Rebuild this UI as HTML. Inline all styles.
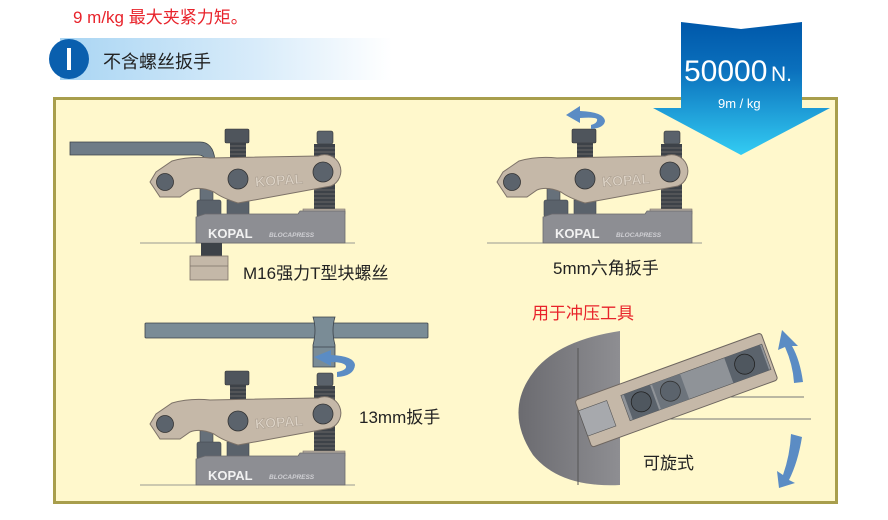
<!DOCTYPE html>
<html><head><meta charset="utf-8"><style>
body{margin:0;width:888px;height:520px;background:#fff;overflow:hidden;font-family:"Liberation Sans","Noto Sans CJK SC",sans-serif}
svg{display:block}
</style></head><body>
<svg width="888" height="520" viewBox="0 0 888 520" xmlns="http://www.w3.org/2000/svg" font-family="Liberation Sans, Noto Sans CJK SC, sans-serif">
<defs>
<linearGradient id="bar" x1="0" x2="1" y1="0" y2="0"><stop offset="0" stop-color="#a9d5f3"/><stop offset="0.6" stop-color="#d9ecfa"/><stop offset="1" stop-color="#ffffff"/></linearGradient>
<linearGradient id="arr" x1="0" x2="0" y1="0" y2="1"><stop offset="0" stop-color="#0058aa"/><stop offset="0.35" stop-color="#0a6fbc"/><stop offset="1" stop-color="#33ccf3"/></linearGradient>
<linearGradient id="die" x1="0" x2="1" y1="0" y2="0"><stop offset="0" stop-color="#6b6b70"/><stop offset="1" stop-color="#8e8e92"/></linearGradient>
<g id="clamp">
  <line x1="140" y1="243" x2="355" y2="243" stroke="#9a9a92" stroke-width="1"/>
  <rect x="200" y="188" width="13" height="15" fill="#66707a" stroke="#444" stroke-width="0.6"/>
  <rect x="197" y="200" width="24" height="17" rx="2" fill="#5a626b" stroke="#3f454c" stroke-width="0.6"/>
  <rect x="227" y="200" width="22" height="17" fill="#5a626b" stroke="#3f454c" stroke-width="0.6"/>
  <rect x="225" y="129" width="24" height="14" rx="1.5" fill="#4f555c" stroke="#333" stroke-width="0.6"/>
  <rect x="230" y="143" width="16" height="18" fill="#3d4248"/>
  <path d="M230 146h16M230 150h16M230 154h16M230 158h16" stroke="#666" stroke-width="1"/>
  <rect x="317" y="131" width="16" height="13" rx="2" fill="#5a626b" stroke="#333" stroke-width="0.6"/>
  <rect x="314" y="144" width="21" height="66" fill="#3d4248"/>
  <path d="M314 148h21M314 152h21M314 156h21M314 160h21M314 190h21M314 194h21M314 198h21M314 202h21M314 206h21" stroke="#666" stroke-width="1"/>
  <rect x="303" y="209" width="42" height="5" fill="#b9b0a4" stroke="#7a7068" stroke-width="0.6"/>
  <path d="M196 217 L205 214 L298 214 L300 211 L345 211 L345 243 L196 243 Z" fill="#8d8e93" stroke="#6a6a6e" stroke-width="0.8"/>
  <text x="208" y="238" font-size="13" font-weight="bold" fill="#f2f2f2">KOPAL</text>
  <text x="269" y="237" font-size="6.5" font-style="italic" font-weight="bold" fill="#d0d0d4">BLOCAPRESS</text>
  <path d="M150 182 L156 172 L172 161 Q190 156 210 158 L318 156 A16 16 0 0 1 331 186 L238 203 Q222 198 214 192 Q200 186 190 190 L180 197 L160 197 Z" fill="#c5b8a8" stroke="#7d7268" stroke-width="1"/>
  <circle cx="165" cy="182" r="8.5" fill="#5b636c" stroke="#333" stroke-width="0.8"/>
  <circle cx="238" cy="179" r="10" fill="#5b636c" stroke="#333" stroke-width="0.8"/>
  <circle cx="323" cy="172" r="10" fill="#5b636c" stroke="#333" stroke-width="0.8"/>
  <text x="255" y="185" font-size="14" font-weight="bold" fill="#ddd3c6" stroke="#a89c8e" stroke-width="0.5" transform="rotate(-4 280 180)">KOPAL</text>
</g>
</defs>

<text x="73" y="23" font-size="17" fill="#e8232b">9 m/kg 最大夹紧力矩。</text>
<rect x="60" y="38" width="332" height="42" fill="url(#bar)"/>
<circle cx="69" cy="59" r="20" fill="#0a5fae"/>
<rect x="67" y="48" width="4" height="22" fill="#fff"/>
<text x="103" y="68" font-size="18" fill="#222">不含螺丝扳手</text>

<rect x="54.5" y="98.5" width="782" height="404" fill="#fff8cc" stroke="#a89e4c" stroke-width="3"/>

<path d="M681 22 L741 29 L802 22 L802 108 L830 108 L741 155 L653 108 L681 108 Z" fill="url(#arr)"/>
<text x="684" y="81" font-size="30" fill="#fff">50000</text>
<text x="771" y="81" font-size="21" fill="#fff">N.</text>
<text x="718" y="108" font-size="13" fill="#fff">9m / kg</text>

<path d="M70 142 H200 Q213 142 215 160 L205 160 Q204 155 198 155 H70 Z" fill="#6f7c87" stroke="#3c434a" stroke-width="0.8"/>
<use href="#clamp"/>
<rect x="201" y="243" width="21" height="13" fill="#3d4248"/>
<rect x="190" y="256" width="38" height="24" fill="#c4b8a8" stroke="#7d7268" stroke-width="0.8"/>
<line x1="190" y1="266" x2="228" y2="266" stroke="#7d7268" stroke-width="0.8"/>
<text x="243" y="279" font-size="17" fill="#222">M16强力T型块螺丝</text>

<use href="#clamp" transform="translate(347,0)"/>
<path d="M566 115 L580 106 L580 111 Q604 112 605 121 Q604 128 591 129 L591 125 Q598 123 597 119 Q595 117 580 118 L580 123 Z" fill="#5b8cc4"/>
<text x="553" y="274" font-size="17" fill="#222">5mm六角扳手</text>

<use href="#clamp" transform="translate(0,242)"/>
<rect x="145" y="323" width="283" height="15" rx="1" fill="#7a8c96" stroke="#3c434a" stroke-width="0.8"/>
<path d="M313 317 H335 Q331 330 335 345 V367 H313 V345 Q317 330 313 317 Z" fill="#7a8c96" stroke="#3c434a" stroke-width="0.8"/>
<line x1="313" y1="347" x2="335" y2="347" stroke="#3c434a" stroke-width="0.8"/>
<path d="M314 357 L331 350 L331 355 Q354 356 355 365 Q354 376 337 377 L337 372 Q347 370 346 366 Q344 362 331 362 L331 366 Z" fill="#5b8cc4"/>
<text x="359" y="423" font-size="17" fill="#222">13mm扳手</text>

<text x="532" y="319" font-size="17" fill="#e8232b">用于冲压工具</text>
<path d="M620 331 L620 485 Q560 488 533 455 Q503 410 535 370 Q560 340 620 331 Z" fill="url(#die)"/>
<line x1="578" y1="348" x2="578" y2="485" stroke="#555" stroke-width="1"/>
<line x1="620" y1="397" x2="804" y2="397" stroke="#777" stroke-width="1"/>
<line x1="620" y1="419" x2="811" y2="419" stroke="#777" stroke-width="1"/>
<g transform="translate(583,423) rotate(-20)">
  <rect x="0" y="-24" width="198" height="50" rx="3" fill="#c5b8a8" stroke="#6e6660" stroke-width="1"/>
  <rect x="45" y="-13" width="150" height="27" fill="#8f9398" stroke="#555" stroke-width="0.6"/>
  <rect x="0" y="-13" width="30" height="27" fill="#a7a9ad" stroke="#555" stroke-width="0.6"/>
  <rect x="48" y="-13" width="28" height="27" fill="#5b636c"/>
  <circle cx="62" cy="0" r="10" fill="#4f575f" stroke="#222" stroke-width="0.8"/>
  <rect x="78" y="-13" width="30" height="27" fill="#6d747c"/>
  <circle cx="93" cy="0" r="10" fill="#5b636c" stroke="#333" stroke-width="0.8"/>
  <rect x="155" y="-13" width="38" height="27" fill="#5b636c"/>
  <circle cx="172" cy="0" r="10" fill="#4f575f" stroke="#222" stroke-width="0.8"/>
</g>
<path d="M782 330 L798 346 L792 346 Q800 360 803 382 L794 383 Q793 365 785 347 L778 350 Z" fill="#5b8cc4"/>
<path d="M791 434 L802 437 Q798 462 789 480 L795 483 L779 488 L777 471 L783 475 Q790 455 791 434 Z" fill="#5b8cc4"/>
<text x="643" y="469" font-size="17" fill="#222">可旋式</text>
</svg>
</body></html>
